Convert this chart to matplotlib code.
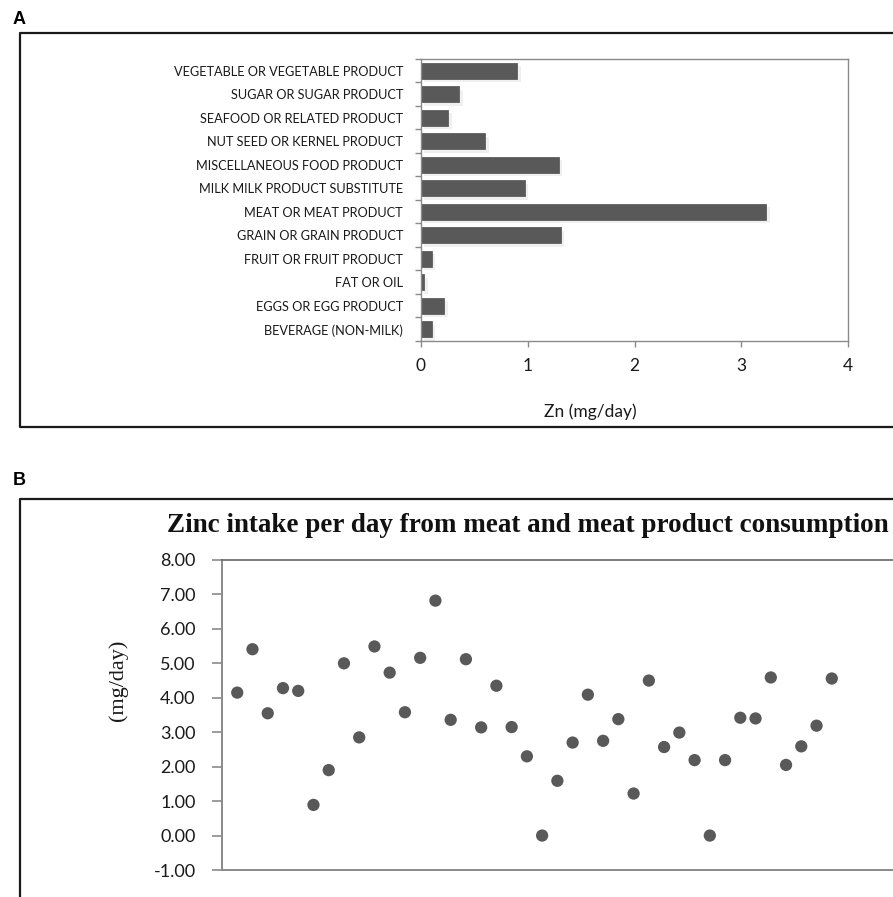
import matplotlib
matplotlib.use('Agg')
import matplotlib.pyplot as plt
import matplotlib.patheffects as pe
from matplotlib.lines import Line2D
import numpy as np

# ---------------- data ----------------
categories = [
    "BEVERAGE (NON-MILK)",
    "EGGS OR EGG PRODUCT",
    "FAT OR OIL",
    "FRUIT OR FRUIT PRODUCT",
    "GRAIN OR GRAIN PRODUCT",
    "MEAT OR MEAT PRODUCT",
    "MILK MILK PRODUCT SUBSTITUTE",
    "MISCELLANEOUS FOOD PRODUCT",
    "NUT SEED OR KERNEL PRODUCT",
    "SEAFOOD OR RELATED PRODUCT",
    "SUGAR OR SUGAR PRODUCT",
    "VEGETABLE OR VEGETABLE PRODUCT",
]
zn_values = [0.10, 0.22, 0.03, 0.10, 1.31, 3.235, 0.97, 1.29, 0.60, 0.256, 0.36, 0.90]
x_ticks_a = [0, 1, 2, 3, 4]

sample_ids = list(range(1, 41))
meat_zn = [4.15, 5.41, 3.55, 4.28, 4.20, 0.89, 1.90, 5.00, 2.85, 5.49,
           4.73, 3.58, 5.16, 6.82, 3.36, 5.12, 3.14, 4.35, 3.15, 2.30,
           0.00, 1.59, 2.70, 4.09, 2.75, 3.38, 1.22, 4.50, 2.57, 2.99,
           2.19, 0.00, 2.19, 3.42, 3.40, 4.59, 2.05, 2.59, 3.19, 4.56]
y_ticks_b = [8, 7, 6, 5, 4, 3, 2, 1, 0, -1]

# ---------------- figure ----------------
W, H = 893, 897
fig = plt.figure(figsize=(W / 100, H / 100), dpi=100)
fig.patch.set_facecolor('white')


def fx(px):
    return px / W


def fy(py):
    return 1 - py / H


SANS = ['Lato', 'DejaVu Sans']
BAR = '#595959'
SPINE = '#8a8a8a'
TXT = '#1a1a1a'

# panel letters
fig.text(fx(13), fy(19), 'A', fontsize=13, fontweight='bold',
         family=['Liberation Sans', 'DejaVu Sans'], va='center', ha='left')
fig.text(fx(13), fy(480), 'B', fontsize=13, fontweight='bold',
         family=['Liberation Sans', 'DejaVu Sans'], va='center', ha='left')

# outer frames
fig.add_artist(Line2D([fx(900), fx(20), fx(20), fx(900)],
                      [fy(33), fy(33), fy(427), fy(427)],
                      color='#1a1a1a', lw=1.6, transform=fig.transFigure))
fig.add_artist(Line2D([fx(900), fx(20), fx(20)],
                      [fy(499), fy(499), fy(900)],
                      color='#1a1a1a', lw=1.6, transform=fig.transFigure))

# ---------------- panel A ----------------
axA = fig.add_axes([fx(421), fy(341), (848 - 421) / W, (341 - 59) / H])
ypos = np.arange(len(categories))
axA.barh(ypos, zn_values, height=0.67, color=BAR, edgecolor='#4f4f4f', lw=0.5,
         path_effects=[pe.SimplePatchShadow(offset=(2.5, -2.5),
                                            shadow_rgbFace='#dedede', alpha=0.45),
                       pe.Normal()])
axA.set_xlim(0, 4)
axA.set_ylim(-0.5, len(categories) - 0.5)
axA.set_xticks(x_ticks_a)
axA.set_xticklabels([str(v) for v in x_ticks_a], family=SANS, fontsize=12.5,
                    color=TXT)
axA.set_yticks(ypos)
axA.set_yticklabels(categories, family=SANS, fontsize=9.2, color=TXT)
axA.set_yticks(np.arange(-0.5, len(categories), 1.0), minor=True)
axA.tick_params(axis='y', which='major', length=0, pad=13)
axA.tick_params(axis='y', which='minor', length=4, color=SPINE, width=1)
axA.tick_params(axis='x', which='major', length=4, color=SPINE, width=1, pad=8)
for s in axA.spines.values():
    s.set_color(SPINE)
    s.set_linewidth(1.0)
fig.text(fx(590), fy(412), 'Zn (mg/day)', family=SANS, fontsize=12.5,
         ha='center', va='center', color=TXT)

# ---------------- panel B ----------------
axB = fig.add_axes([fx(222), fy(870), 686 / W, (870 - 560) / H])
axB.scatter(sample_ids, meat_zn, s=78, color=BAR, edgecolors='none', zorder=3)
axB.set_xlim(0, 45)
axB.set_ylim(-1, 8)
axB.set_xticks([])
axB.set_yticks(y_ticks_b)
axB.set_yticklabels([f"{v:.2f}" for v in y_ticks_b], family=SANS, fontsize=13,
                    color=TXT)
axB.tick_params(axis='y', length=7, color=SPINE, width=1.2, pad=12)
axB.spines['right'].set_visible(False)
axB.spines['left'].set_color(SPINE)
axB.spines['left'].set_linewidth(1.4)
axB.spines['bottom'].set_color(SPINE)
axB.spines['bottom'].set_linewidth(1.4)
axB.spines['top'].set_color('#666666')
axB.spines['top'].set_linewidth(1.2)

fig.text(fx(528), fy(532), 'Zinc intake per day from meat and meat product consumption',
         family=['Liberation Serif', 'DejaVu Serif'], fontweight='bold', fontsize=19.5,
         ha='center', va='baseline', color='#111111')
fig.text(fx(118), fy(680), '(mg/day)', family=['Liberation Serif', 'DejaVu Serif'],
         fontsize=16, rotation=90, ha='center', va='center', color=TXT)

fig.savefig('out.png', dpi=100, facecolor='white')
